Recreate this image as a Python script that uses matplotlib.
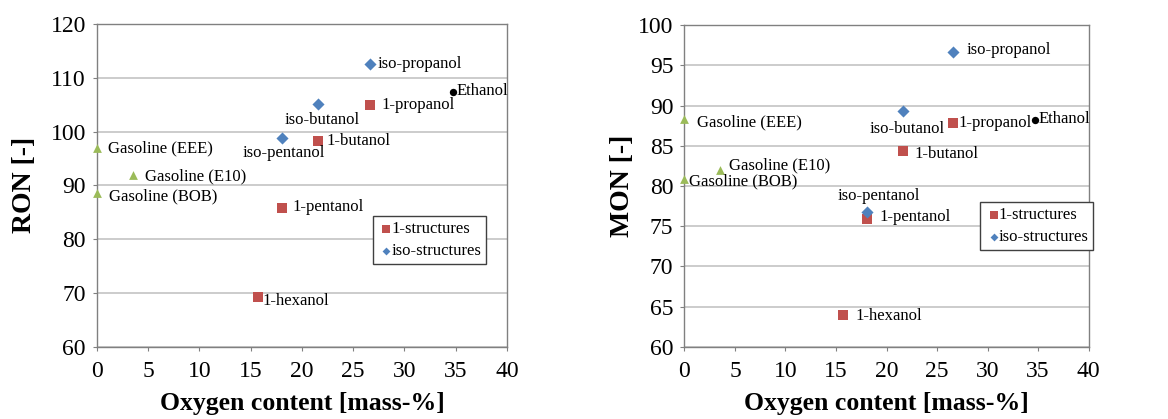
import matplotlib
matplotlib.use("Agg")
import matplotlib.pyplot as plt

plt.rcParams['font.family'] = ['Liberation Serif', 'DejaVu Serif']

# compounds: oxygen content [mass-%], RON, MON
names = ["Gasoline (EEE)", "Gasoline (E10)", "Gasoline (BOB)",
         "Ethanol", "1-propanol", "1-butanol", "1-pentanol", "1-hexanol",
         "iso-propanol", "iso-butanol", "iso-pentanol"]
kinds = ["gas", "gas", "gas", "eth", "one", "one", "one", "one", "iso", "iso", "iso"]
oxygen = [0.0, 3.5, 0.0, 34.7, 26.6, 21.6, 18.1, 15.7, 26.6, 21.6, 18.1]
ron = [97.0, 92.0, 88.5, 107.4, 104.9, 98.3, 85.8, 69.3, 112.6, 105.1, 98.8]
mon = [88.3, 82.0, 80.9, 88.2, 87.8, 84.4, 75.9, 64.0, 96.7, 89.3, 76.8]

# label anchor (x, y, ha) per panel
ron_lbl = [(1.1, 96.8, 'left'), (4.7, 91.6, 'left'), (1.2, 87.9, 'left'),
           (35.1, 107.6, 'left'), (27.8, 105.0, 'left'), (22.4, 98.3, 'left'),
           (19.1, 86.0, 'left'), (16.2, 68.5, 'left'), (27.4, 112.6, 'left'),
           (22.0, 102.2, 'center'), (18.2, 96.0, 'center')]
mon_lbl = [(1.2, 87.9, 'left'), (4.4, 82.6, 'left'), (0.5, 80.6, 'left'),
           (35.0, 88.3, 'left'), (27.1, 87.8, 'left'), (22.8, 84.0, 'left'),
           (19.3, 76.2, 'left'), (16.9, 63.9, 'left'), (27.9, 96.9, 'left'),
           (22.0, 87.1, 'center'), (19.2, 78.8, 'center')]

styles = {
    "one": dict(marker='s', color='#C0504D', s=55),
    "iso": dict(marker='D', color='#4F81BD', s=38),
    "gas": dict(marker='^', color='#9BBB59', s=40),
    "eth": dict(marker='o', color='black', s=28),
}

fig = plt.figure(figsize=(11.68, 4.19), dpi=100)
ax1 = fig.add_axes([0.083, 0.172, 0.351, 0.771])
ax2 = fig.add_axes([0.586, 0.172, 0.346, 0.768])


def draw(ax, yvals, lbls, ylim, ystep, ylabel, ypad, leg_anchor):
    for k in ["gas", "eth", "one", "iso"]:
        xs = [x for x, kk in zip(oxygen, kinds) if kk == k]
        ys = [y for y, kk in zip(yvals, kinds) if kk == k]
        ax.scatter(xs, ys, zorder=3, linewidths=0, clip_on=False, **styles[k])
    for n, (lx, ly, ha) in zip(names, lbls):
        ax.text(lx, ly, n, ha=ha, va='center', fontsize=12, zorder=4)
    ax.set_xlim(0, 40)
    ax.set_ylim(*ylim)
    ax.set_xticks(range(0, 41, 5))
    ax.set_yticks(range(ylim[0], ylim[1] + 1, ystep))
    ax.yaxis.grid(True, color='#c8c8c8', lw=1.3)
    ax.set_axisbelow(True)
    for sp in ax.spines.values():
        sp.set_color('#808080')
        sp.set_linewidth(1.0)
    ax.tick_params(direction='out', length=3, color='#808080', labelsize=17)
    ax.tick_params(axis='x', pad=7)
    ax.tick_params(axis='y', pad=5)
    ax.set_xlabel('Oxygen content [mass-%]', fontsize=18.5, fontweight='bold', labelpad=7)
    ax.set_ylabel(ylabel, fontsize=20, fontweight='bold', labelpad=ypad)
    h1 = ax.scatter([], [], marker='s', color='#C0504D', s=30, linewidths=0)
    h2 = ax.scatter([], [], marker='D', color='#4F81BD', s=16, linewidths=0)
    leg = ax.legend([h1, h2], ['1-structures', 'iso-structures'], loc='upper left',
                    bbox_to_anchor=leg_anchor, fontsize=12, handletextpad=-0.2,
                    handlelength=1.0, borderpad=0.3, labelspacing=0.35,
                    fancybox=False, framealpha=1, borderaxespad=0)
    leg.get_frame().set_edgecolor('#404040')
    leg.get_frame().set_linewidth(1.0)


draw(ax1, ron, ron_lbl, (60, 120), 10, 'RON [-]', 10, (0.673, 0.405))
draw(ax2, mon, mon_lbl, (60, 100), 5, 'MON [-]', 2, (0.732, 0.45))

fig.savefig('out.png', dpi=100)
